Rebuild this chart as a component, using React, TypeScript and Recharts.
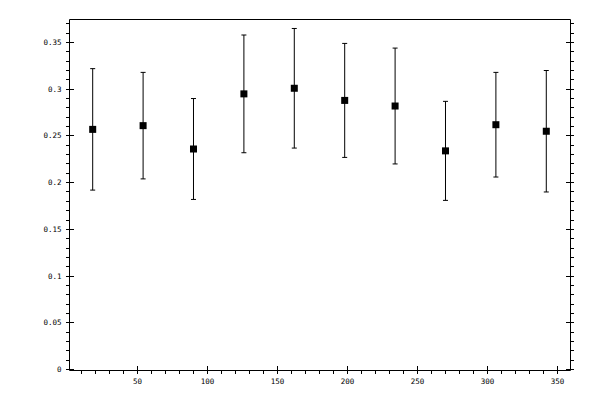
import React from 'react';
import { ScatterChart, Scatter, XAxis, YAxis, ErrorBar } from 'recharts';

const angles = [18, 54, 90, 126, 162, 198, 234, 270, 306, 342];
const means = [0.257, 0.261, 0.236, 0.295, 0.301, 0.288, 0.282, 0.234, 0.262, 0.255];
const errors = [0.065, 0.057, 0.054, 0.063, 0.064, 0.061, 0.062, 0.053, 0.056, 0.065];

const xMajorTicks = [50, 100, 150, 200, 250, 300, 350];
const xMinorTicks = [10, 20, 30, 40, 50, 60, 70, 80, 90, 100, 110, 120, 130, 140, 150, 160, 170, 180, 190, 200, 210, 220, 230, 240, 250, 260, 270, 280, 290, 300, 310, 320, 330, 340, 350];
const yMajorTicks = [0, 0.05, 0.1, 0.15, 0.2, 0.25, 0.3, 0.35];
const yMinorTicks = [0, 0.01, 0.02, 0.03, 0.04, 0.05, 0.06, 0.07, 0.08, 0.09, 0.1, 0.11, 0.12, 0.13, 0.14, 0.15, 0.16, 0.17, 0.18, 0.19, 0.2, 0.21, 0.22, 0.23, 0.24, 0.25, 0.26, 0.27, 0.28, 0.29, 0.3, 0.31, 0.32, 0.33, 0.34, 0.35, 0.36, 0.37];

const data = angles.map((a, i) => ({ angle: a, value: means[i], err: errors[i] }));

const X_DOMAIN: [number, number] = [1.43, 359.29];
const Y_DOMAIN: [number, number] = [-0.00107, 0.3746];
const FONT = "'DejaVu Sans Mono', monospace";
const FS = 7.5;

const BottomTick = (props: any) => {
  const { x, y, payload } = props;
  const v = payload.value;
  const major = xMajorTicks.includes(v);
  return (
    <g>
      <line x1={x} x2={x} y1={major ? y - 4.5 : y - 0.5} y2={y + 3.5} stroke="#000" strokeWidth={1} shapeRendering="crispEdges" />
      {major && (
        <text x={x} y={y + 13} textAnchor="middle" fontSize={FS} fontFamily={FONT} fill="#000">{v}</text>
      )}
    </g>
  );
};

const TopTick = (props: any) => {
  const { x, y, payload } = props;
  const major = xMajorTicks.includes(payload.value);
  return (
    <line x1={x} x2={x} y1={major ? y + 4.5 : y + 0.5} y2={y - 3.5} stroke="#000" strokeWidth={1} shapeRendering="crispEdges" />
  );
};

const LeftTick = (props: any) => {
  const { x, y, payload } = props;
  const v = payload.value;
  const major = yMajorTicks.includes(v);
  return (
    <g>
      <line x1={major ? x + 4.5 : x + 0.5} x2={x - 3.5} y1={y} y2={y} stroke="#000" strokeWidth={1} shapeRendering="crispEdges" />
      {major && (
        <text x={x - 8} y={y + 2.5} textAnchor="end" fontSize={FS} fontFamily={FONT} fill="#000">{String(v)}</text>
      )}
    </g>
  );
};

const RightTick = (props: any) => {
  const { x, y, payload } = props;
  const major = yMajorTicks.includes(payload.value);
  return (
    <line x1={major ? x - 4.5 : x - 0.5} x2={x + 3.5} y1={y} y2={y} stroke="#000" strokeWidth={1} shapeRendering="crispEdges" />
  );
};

const Square = (props: any) => {
  const { cx, cy } = props;
  return <rect x={cx - 3.5} y={cy - 3.5} width={7} height={7} fill="#000" />;
};

export default function App() {
  return (
    <div style={{ width: 600, height: 400, background: '#fff' }}>
      <ScatterChart width={600} height={400} margin={{ top: 0, right: 0, bottom: 0, left: 0 }}>
        <XAxis
          xAxisId="b"
          dataKey="angle"
          type="number"
          orientation="bottom"
          domain={X_DOMAIN}
          allowDataOverflow
          ticks={xMinorTicks}
          interval={0}
          tick={<BottomTick />}
          tickLine={false}
          tickSize={0}
          tickMargin={0}
          height={37.5}
          axisLine={{ stroke: '#000', strokeWidth: 1 }}
        />
        <XAxis
          xAxisId="t"
          type="number"
          orientation="top"
          domain={X_DOMAIN}
          allowDataOverflow
          ticks={xMinorTicks}
          interval={0}
          tick={<TopTick />}
          tickLine={false}
          tickSize={0}
          tickMargin={0}
          height={11.5}
          axisLine={{ stroke: '#000', strokeWidth: 1 }}
        />
        <YAxis
          yAxisId="l"
          dataKey="value"
          type="number"
          orientation="left"
          domain={Y_DOMAIN}
          allowDataOverflow
          ticks={yMinorTicks}
          interval={0}
          tick={<LeftTick />}
          tickLine={false}
          tickSize={0}
          tickMargin={0}
          width={61.5}
          axisLine={{ stroke: '#000', strokeWidth: 1 }}
        />
        <YAxis
          yAxisId="r"
          type="number"
          orientation="right"
          domain={Y_DOMAIN}
          allowDataOverflow
          ticks={yMinorTicks}
          interval={0}
          tick={<RightTick />}
          tickLine={false}
          tickSize={0}
          tickMargin={0}
          width={37.5}
          axisLine={{ stroke: '#000', strokeWidth: 1 }}
        />
        <Scatter
          xAxisId="b"
          yAxisId="l"
          data={data}
          fill="#000"
          shape={<Square />}
          isAnimationActive={false}
        >
          <ErrorBar dataKey="err" direction="y" width={2.5} stroke="#000" strokeWidth={1} isAnimationActive={false} />
        </Scatter>
      </ScatterChart>
    </div>
  );
}
